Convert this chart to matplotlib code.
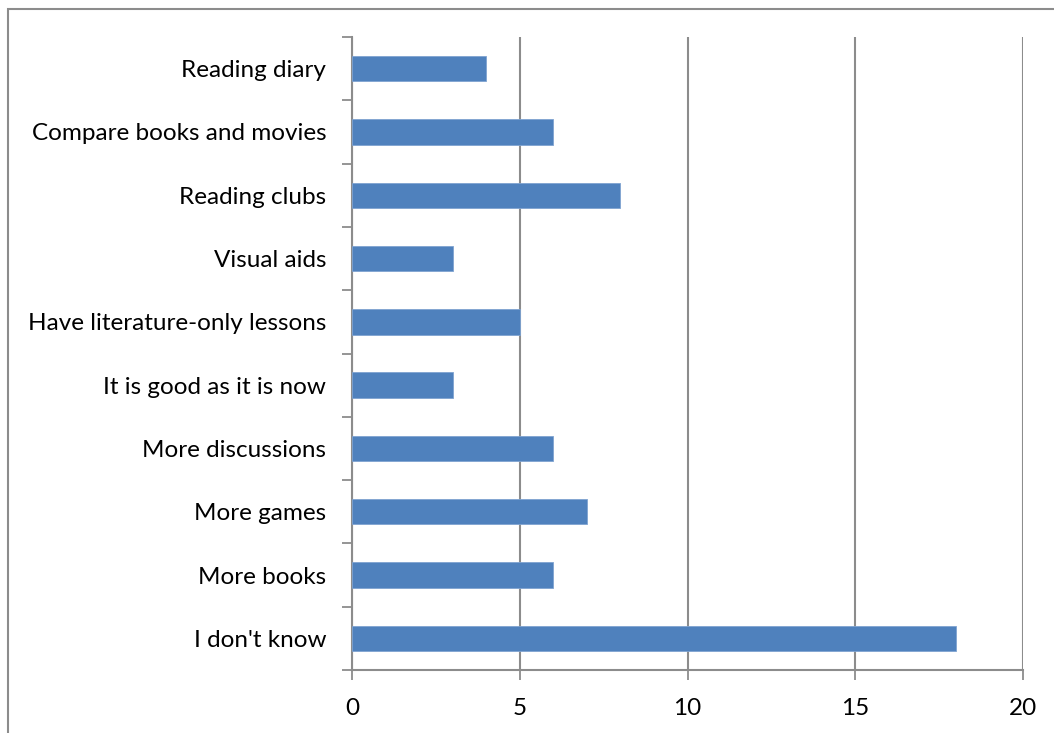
import matplotlib
matplotlib.use("Agg")
import matplotlib.pyplot as plt
from matplotlib.patches import Rectangle
from matplotlib.ticker import FixedLocator

categories = ["I don't know", "More books", "More games", "More discussions",
              "It is good as it is now", "Have literature-only lessons",
              "Visual aids", "Reading clubs", "Compare books and movies",
              "Reading diary"]
counts = [18, 6, 7, 6, 3, 5, 3, 8, 6, 4]
x_ticks = [0, 5, 10, 15, 20]

plt.rcParams["font.family"] = ["Lato", "DejaVu Sans"]
grey = "#8c8c8c"

fig = plt.figure(figsize=(10.54, 7.33), dpi=100)
ax = fig.add_axes([352 / 1054, 1 - 670 / 733, (1023 - 352) / 1054, (670 - 37) / 733])

pos = list(range(len(categories)))
ax.barh(pos, counts, height=0.4, color="#4F81BD", edgecolor="#7fa3d1", linewidth=0.6, zorder=3)

ax.set_xlim(0, 20)
ax.set_ylim(-0.5, len(categories) - 0.5)
ax.set_xticks(x_ticks)
ax.set_yticks(pos)
ax.set_yticklabels(categories)
ax.yaxis.set_minor_locator(FixedLocator([p - 0.5 for p in range(len(categories) + 1)]))

ax.tick_params(axis="y", which="major", length=0, pad=18.5, labelsize=17.5)
ax.tick_params(axis="y", which="minor", length=7, width=1.3, color=grey)
ax.tick_params(axis="x", length=7, width=1.3, color=grey, pad=13, labelsize=17.5)

for s in ("top", "right"):
    ax.spines[s].set_visible(False)
for s in ("left", "bottom"):
    ax.spines[s].set_color(grey)
    ax.spines[s].set_linewidth(1.5)

ax.grid(axis="x", color=grey, linewidth=1.5, zorder=0)
ax.set_axisbelow(True)

# outer chart border, clipped at the right and bottom edges
fig.patches.append(Rectangle((8 / 1054, -0.2), 1.2, 1.2 - 8.5 / 733,
                             transform=fig.transFigure, fill=False,
                             edgecolor=grey, linewidth=1.5))

fig.savefig("out.png", dpi=100)
